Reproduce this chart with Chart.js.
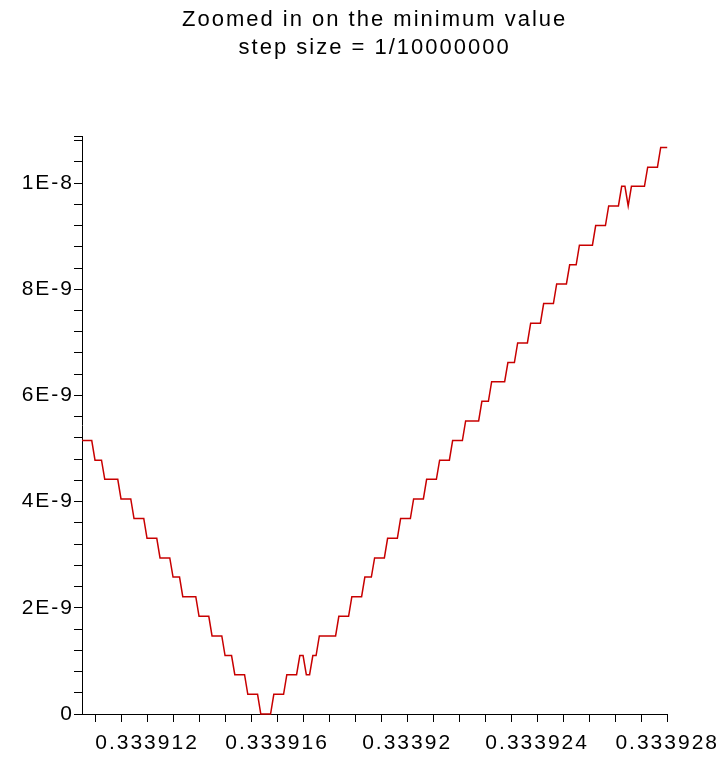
<!DOCTYPE html>
<html>
<head>
<meta charset="utf-8">
<title>Zoomed in on the minimum value</title>
<script src="https://cdn.jsdelivr.net/npm/chart.js@4.4.1/dist/chart.umd.min.js"></script>
<style>
    html, body { margin: 0; padding: 0; background: #fff; }
    #wrap { width: 728px; height: 759px; }
</style>
</head>
<body>
<div id="wrap"><canvas id="plot"></canvas></div>
<script>
// Sample points where the plotted curve turns a corner (step size 1e-7)
const xValues = [
    0.33391, 0.3339103, 0.3339104, 0.3339106, 0.3339107, 0.3339111, 0.3339112, 0.3339115,
    0.3339116, 0.3339119, 0.333912, 0.3339123, 0.3339124, 0.3339127, 0.3339128, 0.333913,
    0.3339131, 0.3339135, 0.3339136, 0.3339139, 0.333914, 0.3339143, 0.3339144, 0.3339146,
    0.3339147, 0.333915, 0.3339151, 0.3339154, 0.3339155, 0.3339158, 0.3339159, 0.3339162,
    0.3339163, 0.3339166, 0.3339167, 0.3339168, 0.3339169, 0.333917, 0.3339171, 0.3339172,
    0.3339173, 0.3339178, 0.3339179, 0.3339182, 0.3339183, 0.3339186, 0.3339187, 0.3339189,
    0.333919, 0.3339193, 0.3339194, 0.3339197, 0.3339198, 0.3339201, 0.3339202, 0.3339205,
    0.3339206, 0.3339209, 0.333921, 0.3339213, 0.3339214, 0.3339217, 0.3339218, 0.3339222,
    0.3339223, 0.3339225, 0.3339226, 0.333923, 0.3339231, 0.3339233, 0.3339234, 0.3339237,
    0.3339238, 0.3339241, 0.3339242, 0.3339245, 0.3339246, 0.3339249, 0.333925, 0.3339252,
    0.3339253, 0.3339257, 0.3339258, 0.3339261, 0.3339262, 0.3339265, 0.3339266, 0.3339267,
    0.3339268, 0.3339269, 0.3339273, 0.3339274, 0.3339277, 0.3339278, 0.333928
];

const yValues = [
    5.15e-9, 5.15e-9, 4.78e-9, 4.78e-9, 4.42e-9, 4.42e-9, 4.05e-9, 4.05e-9,
    3.68e-9, 3.68e-9, 3.31e-9, 3.31e-9, 2.94e-9, 2.94e-9, 2.58e-9, 2.58e-9,
    2.21e-9, 2.21e-9, 1.84e-9, 1.84e-9, 1.47e-9, 1.47e-9, 1.10e-9, 1.10e-9,
    0.74e-9, 0.74e-9, 0.37e-9, 0.37e-9, 0, 0, 0.37e-9, 0.37e-9,
    0.74e-9, 0.74e-9, 1.10e-9, 1.10e-9, 0.74e-9, 0.74e-9, 1.10e-9, 1.10e-9,
    1.47e-9, 1.47e-9, 1.84e-9, 1.84e-9, 2.21e-9, 2.21e-9, 2.58e-9, 2.58e-9,
    2.94e-9, 2.94e-9, 3.31e-9, 3.31e-9, 3.68e-9, 3.68e-9, 4.05e-9, 4.05e-9,
    4.42e-9, 4.42e-9, 4.78e-9, 4.78e-9, 5.15e-9, 5.15e-9, 5.52e-9, 5.52e-9,
    5.89e-9, 5.89e-9, 6.26e-9, 6.26e-9, 6.62e-9, 6.62e-9, 6.99e-9, 6.99e-9,
    7.36e-9, 7.36e-9, 7.73e-9, 7.73e-9, 8.10e-9, 8.10e-9, 8.46e-9, 8.46e-9,
    8.83e-9, 8.83e-9, 9.20e-9, 9.20e-9, 9.57e-9, 9.57e-9, 9.94e-9, 9.94e-9,
    9.57e-9, 9.94e-9, 9.94e-9, 10.30e-9, 10.30e-9, 10.67e-9, 10.67e-9
];

// Axis ticks (every tick mark) and the ones that carry a label
const xTicks = [
    0.3339104, 0.3339112, 0.333912, 0.3339128, 0.3339136, 0.3339144, 0.3339152, 0.333916,
    0.3339168, 0.3339176, 0.3339184, 0.3339192, 0.33392, 0.3339208, 0.3339216, 0.3339224,
    0.3339232, 0.333924, 0.3339248, 0.3339256, 0.3339264, 0.3339272, 0.333928
];
const xLabelValues = [0.333912, 0.333916, 0.33392, 0.333924, 0.333928];
const xLabelTexts = ['0.333912', '0.333916', '0.33392', '0.333924', '0.333928'];

const yTicks = [
    0, 4e-10, 8e-10, 1.2e-9, 1.6e-9, 2e-9, 2.4e-9, 2.8e-9, 3.2e-9, 3.6e-9,
    4e-9, 4.4e-9, 4.8e-9, 5.2e-9, 5.6e-9, 6e-9, 6.4e-9, 6.8e-9, 7.2e-9, 7.6e-9,
    8e-9, 8.4e-9, 8.8e-9, 9.2e-9, 9.6e-9, 1e-8, 1.04e-8, 1.08e-8, 1.087e-8
];
const yLabelValues = [0, 2e-9, 4e-9, 6e-9, 8e-9, 1e-8];
const yLabelTexts = ['0', '2E-9', '4E-9', '6E-9', '8E-9', '1E-8'];

const titleLines = ['Zoomed in on the minimum value', 'step size = 1/10000000'];

function labelFor(value, values, texts, eps) {
    for (let i = 0; i < values.length; i++) {
        if (Math.abs(value - values[i]) < eps) return texts[i];
    }
    return '';
}

// The original plot uses loosely tracked lettering
const letterSpacing = {
    id: 'letterSpacing',
    beforeLayout(chart) { chart.ctx.letterSpacing = '2px'; },
    beforeDraw(chart) { chart.ctx.letterSpacing = '2px'; }
};

Chart.defaults.font.family = "'Liberation Sans', Arial, sans-serif";
Chart.defaults.color = '#000';

const points = xValues.map((x, i) => ({ x: x, y: yValues[i] }));

new Chart(document.getElementById('plot'), {
    type: 'line',
    data: {
        datasets: [{
            data: points,
            borderColor: '#c80000',
            borderWidth: 1.5,
            pointRadius: 0,
            tension: 0,
            fill: false,
            clip: false // the flat part at zero sits on the axis line
        }]
    },
    options: {
        responsive: true,
        maintainAspectRatio: false,
        animation: false,
        layout: {
            padding: { left: 10, right: 58, top: 0, bottom: 5 }
        },
        scales: {
            x: {
                type: 'linear',
                min: 0.33391,
                max: 0.333928,
                afterBuildTicks: scale => { scale.ticks = xTicks.map(v => ({ value: v })); },
                afterFit: scale => { scale.height = 40; },
                grid: {
                    drawOnChartArea: false,
                    drawTicks: true,
                    tickLength: 8,
                    color: '#000'
                },
                border: { display: true, color: '#000', width: 1, z: -1 },
                ticks: {
                    autoSkip: false,
                    maxRotation: 0,
                    minRotation: 0,
                    padding: 9,
                    font: { size: 21 },
                    callback: v => labelFor(v, xLabelValues, xLabelTexts, 1e-11)
                }
            },
            y: {
                type: 'linear',
                min: 0,
                max: 1.087e-8,
                afterBuildTicks: scale => { scale.ticks = yTicks.map(v => ({ value: v })); },
                afterFit: scale => { scale.width = 72; },
                grid: {
                    drawOnChartArea: false,
                    drawTicks: true,
                    tickLength: 8,
                    color: '#000'
                },
                border: { display: true, color: '#000', width: 1 },
                ticks: {
                    autoSkip: false,
                    padding: 0,
                    font: { size: 21 },
                    callback: v => labelFor(v, yLabelValues, yLabelTexts, 1e-13)
                }
            }
        },
        plugins: {
            legend: { display: false },
            tooltip: { enabled: false },
            title: {
                display: true,
                text: titleLines,
                fullSize: false,
                color: '#000',
                font: { size: 22, weight: 'normal', lineHeight: 1.27 },
                padding: { top: 6, bottom: 75 }
            }
        }
    },
    plugins: [letterSpacing]
});
</script>
</body>
</html>
